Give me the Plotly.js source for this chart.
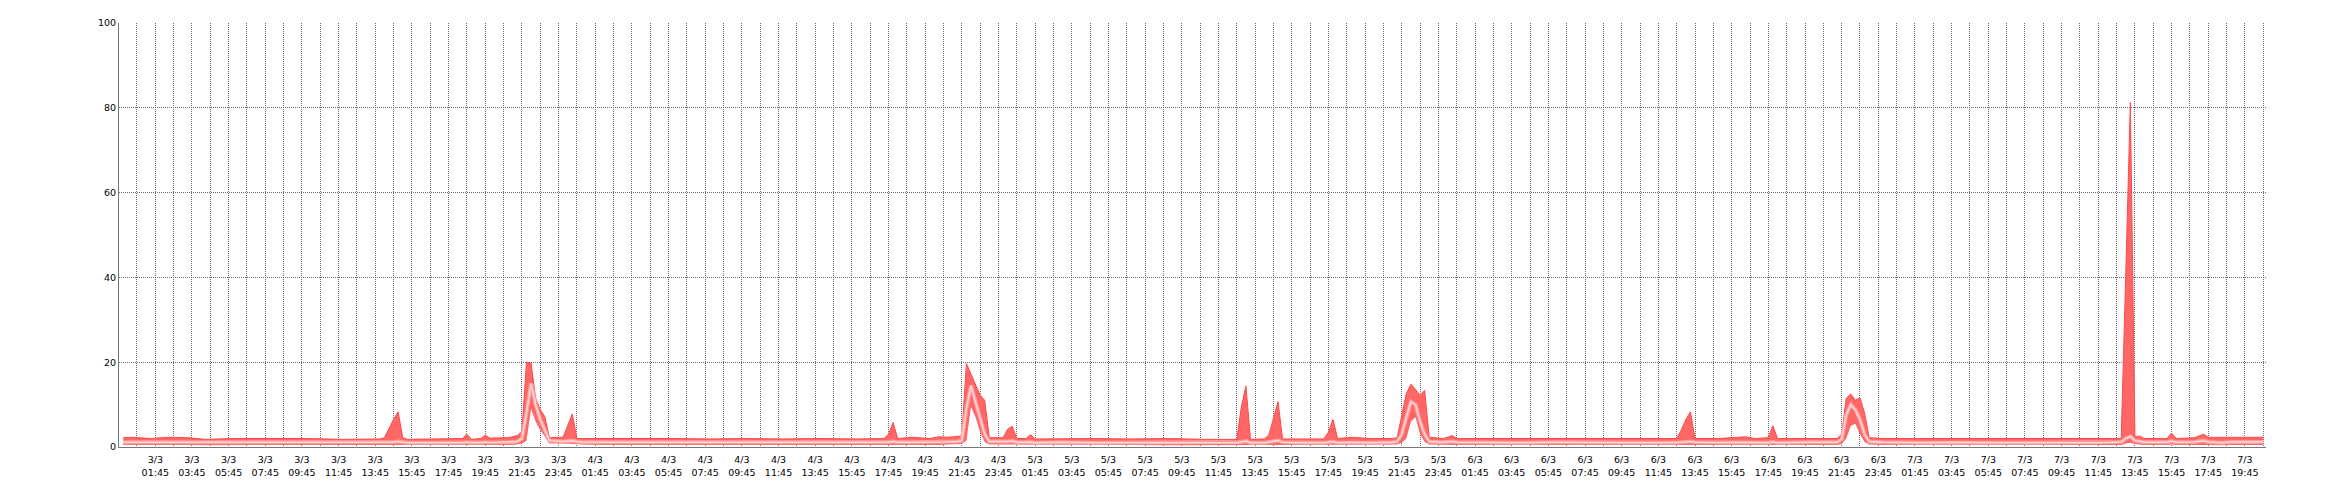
<!DOCTYPE html>
<html>
<head>
<meta charset="utf-8">
<script src="https://cdn.plot.ly/plotly-3.0.1.min.js"></script>
<style>html,body{margin:0;padding:0;background:#fff;}#chart{width:2340px;height:500px;}</style>
</head>
<body>
<div id="chart"></div>
<script>
// Hours since 3/3 00:00
const hours = [
  0, 0.5, 1.5, 2.5, 3.5, 4.5, 6, 8, 10, 12, 14, 14.25, 14.5, 14.75, 15.0, 15.25, 15.5, 17,
  18.5, 18.75, 19.0, 19.5, 19.75, 20.0, 21.0, 21.5, 21.75, 22.0, 22.25, 22.5, 22.75, 23.0, 23.25,
  24.0, 24.25, 24.5, 24.75, 25.0, 26, 28, 30, 32, 34, 36, 38, 40, 41.5, 41.75, 42.0, 42.25,
  43, 44, 44.5, 45, 45.5, 45.75, 46.0, 46.25, 46.5, 46.75, 47.0, 47.25, 48.0, 48.25, 48.5, 48.75,
  49.25, 49.5, 49.75, 51, 53, 55, 57, 59, 60.75, 61.0, 61.25, 61.5, 62.25, 62.5, 62.75, 63.0, 63.25,
  64, 65.5, 65.75, 66.0, 66.25, 67, 68, 69.25, 69.5, 69.75, 70.0, 70.25, 70.5, 70.75, 71.0, 71.25,
  72.0, 72.25, 72.5, 72.75, 74, 76, 78, 80, 82, 84, 84.75, 85.0, 85.25, 85.5, 85.75, 87, 88.5, 89,
  89.75, 90.0, 90.25, 92, 93.5, 93.75, 94.0, 94.25, 94.5, 94.75, 95.0, 95.25, 96, 98, 100, 102, 104,
  106, 108, 109.0, 109.25, 109.5, 109.75, 110.0, 110.25, 111.5, 111.75, 112.0, 113.0, 113.5, 113.75,
  114.5, 115, 116, 116.75
];
const maxVals = [
  2.2, 2.3, 2.0, 2.3, 2.2, 1.8, 2.0, 2.0, 2.0, 1.8, 1.9, 2.2, 4.5, 6.5, 8.3, 2.2, 1.8, 1.9,
  2.0, 3.0, 1.8, 2.0, 2.8, 2.1, 2.2, 2.7, 3.6, 20.0, 19.8, 11.5, 8.8, 7.2, 2.2,
  2.3, 5.0, 7.8, 2.0, 2.0, 2.0, 2.1, 2.0, 1.9, 2.0, 1.9, 2.0, 1.9, 2.0, 3.0, 5.8, 2.0,
  2.3, 2.0, 2.4, 2.3, 2.5, 2.6, 19.7, 17.3, 14.8, 12.2, 11.0, 2.2, 2.2, 4.2, 4.9, 2.0,
  2.0, 2.9, 1.9, 2.0, 2.0, 1.9, 2.0, 1.8, 1.8, 9.5, 14.4, 1.8, 1.9, 2.8, 6.5, 10.7, 1.9,
  1.9, 1.9, 3.5, 6.5, 2.0, 2.3, 2.0, 2.0, 2.2, 7.0, 12.6, 14.8, 13.6, 12.1, 13.4, 2.3,
  2.0, 2.3, 2.7, 2.0, 2.0, 1.9, 2.0, 1.9, 2.0, 1.9, 2.0, 4.0, 6.5, 8.3, 2.0, 2.0, 2.4, 2.0,
  2.2, 5.0, 2.0, 2.0, 2.0, 3.0, 11.5, 12.5, 11.0, 11.6, 8.0, 2.2, 2.0, 2.0, 2.0, 1.9, 2.0,
  1.9, 2.0, 2.0, 41.0, 81.3, 2.4, 2.6, 2.0, 2.0, 3.3, 2.0, 2.2, 3.0, 2.3,
  2.3, 2.3, 2.3, 2.3
];
const avgVals = [
  1.1, 1.1, 1.0, 1.1, 1.1, 1.0, 1.1, 1.0, 1.1, 1.0, 1.0, 1.0, 1.1, 1.2, 1.3, 1.1, 1.0, 1.0,
  1.0, 1.2, 1.0, 1.0, 1.2, 1.0, 1.1, 1.3, 2.0, 8.0, 15.0, 10.0, 6.5, 4.0, 1.5,
  1.3, 1.4, 1.5, 1.3, 1.2, 1.1, 1.1, 1.0, 1.0, 1.1, 1.0, 1.0, 1.0, 1.0, 1.1, 1.3, 1.1,
  1.1, 1.1, 1.2, 1.2, 1.3, 1.5, 9.0, 14.5, 10.5, 6.5, 3.0, 1.3, 1.2, 1.3, 1.4, 1.1,
  1.1, 1.2, 1.0, 1.1, 1.0, 1.0, 1.0, 1.0, 1.0, 1.2, 1.4, 1.0, 1.0, 1.2, 1.3, 1.5, 1.1,
  1.0, 1.0, 1.1, 1.3, 1.0, 1.1, 1.0, 1.1, 1.3, 3.0, 7.0, 10.7, 10.0, 6.0, 3.0, 1.3,
  1.1, 1.2, 1.3, 1.1, 1.0, 1.0, 1.1, 1.0, 1.0, 1.0, 1.0, 1.1, 1.2, 1.3, 1.1, 1.0, 1.1, 1.0,
  1.0, 1.2, 1.0, 1.1, 1.1, 1.8, 7.5, 10.0, 8.8, 6.5, 3.0, 1.3, 1.1, 1.0, 1.1, 1.0, 1.0,
  1.0, 1.0, 1.2, 2.0, 2.5, 1.5, 1.4, 1.1, 1.1, 1.4, 1.1, 1.2, 1.5, 1.2,
  1.0, 1.2, 1.2, 1.2
];
const minVals = [
  0.5, 0.5, 0.5, 0.6, 0.5, 0.4, 0.5, 0.5, 0.5, 0.5, 0.5, 0.5, 0.5, 0.5, 0.5, 0.5, 0.4, 0.4,
  0.5, 0.5, 0.5, 0.5, 0.5, 0.5, 0.5, 0.6, 0.8, 1.5, 9.0, 6.0, 4.0, 2.5, 0.8,
  0.8, 0.8, 0.8, 0.7, 0.6, 0.5, 0.5, 0.5, 0.5, 0.5, 0.4, 0.5, 0.5, 0.5, 0.5, 0.5, 0.5,
  0.5, 0.5, 0.5, 0.6, 0.6, 0.7, 1.5, 9.5, 7.0, 3.5, 1.2, 0.6, 0.6, 0.6, 0.6, 0.5,
  0.5, 0.5, 0.5, 0.5, 0.5, 0.5, 0.4, 0.5, 0.5, 0.5, 0.5, 0.5, 0.5, 0.5, 0.5, 0.5, 0.5,
  0.5, 0.5, 0.5, 0.5, 0.5, 0.5, 0.5, 0.5, 0.6, 1.0, 2.0, 6.0, 7.0, 3.0, 1.2, 0.6,
  0.5, 0.5, 0.5, 0.5, 0.5, 0.5, 0.5, 0.5, 0.5, 0.5, 0.5, 0.5, 0.5, 0.5, 0.5, 0.5, 0.5, 0.5,
  0.5, 0.5, 0.5, 0.5, 0.5, 0.7, 2.0, 5.0, 5.5, 3.0, 1.2, 0.6, 0.5, 0.5, 0.5, 0.5, 0.5,
  0.5, 0.5, 0.5, 0.8, 1.0, 0.7, 0.6, 0.5, 0.5, 0.6, 0.5, 0.5, 0.6, 0.5,
  0.4, 0.5, 0.5, 0.5
];
const yTicks = [0, 20, 40, 60, 80, 100];

const base = Date.UTC(2015, 2, 3, 0, 0, 0);
function toDate(h) {
  return new Date(base + h * 3600000).toISOString().slice(0, 19).replace('T', ' ');
}
const xs = hours.map(toDate);

const traces = [
  {x: xs, y: minVals, type: 'scatter', mode: 'lines', line: {width: 0, color: '#ff6666'}, hoverinfo: 'skip'},
  {x: xs, y: maxVals, type: 'scatter', mode: 'lines', fill: 'tonexty', fillcolor: '#ff6666',
   line: {width: 1, color: '#ff4a4a'}},
  {x: xs, y: avgVals, type: 'scatter', mode: 'lines', line: {width: 4, color: '#ff9c9c'}},
  {x: xs, y: avgVals, type: 'scatter', mode: 'lines', line: {width: 1.5, color: '#ffd6d6'}}
];

const gridCol = '#6e6e6e';
const layout = {
  width: 2340, height: 500,
  margin: {l: 119, r: 74, t: 23, b: 53},
  paper_bgcolor: '#ffffff', plot_bgcolor: '#ffffff',
  showlegend: false,
  font: {family: 'DejaVu Sans, Verdana, sans-serif', size: 10, color: '#000000'},
  xaxis: {
    type: 'date',
    range: [toDate(-0.23), toDate(116.9)],
    tick0: toDate(1.75), dtick: 7200000,
    tickformat: '%-d/%-m<br>%H:%M',
    showgrid: true, gridcolor: gridCol, griddash: '1px,1px', gridwidth: 1,
    minor: {tick0: toDate(0.75), dtick: 3600000, showgrid: true, gridcolor: gridCol, griddash: '1px,1px', gridwidth: 1},
    showline: true, linecolor: '#777777', linewidth: 1,
    zeroline: false, ticks: '', ticklabelstandoff: 4,
    tickfont: {family: 'DejaVu Sans, Verdana, sans-serif', size: 9.5, color: '#000000'}
  },
  yaxis: {
    range: [0, 100], tickvals: yTicks, ticktext: yTicks.map(String),
    showgrid: true, gridcolor: gridCol, griddash: '1px,1px', gridwidth: 1,
    showline: true, linecolor: '#777777', linewidth: 1,
    zeroline: false, ticks: '',
    tickfont: {family: 'DejaVu Sans, Verdana, sans-serif', size: 9.5, color: '#000000'}
  }
};
Plotly.newPlot('chart', traces, layout, {displayModeBar: false, staticPlot: true});
</script>
</body>
</html>
